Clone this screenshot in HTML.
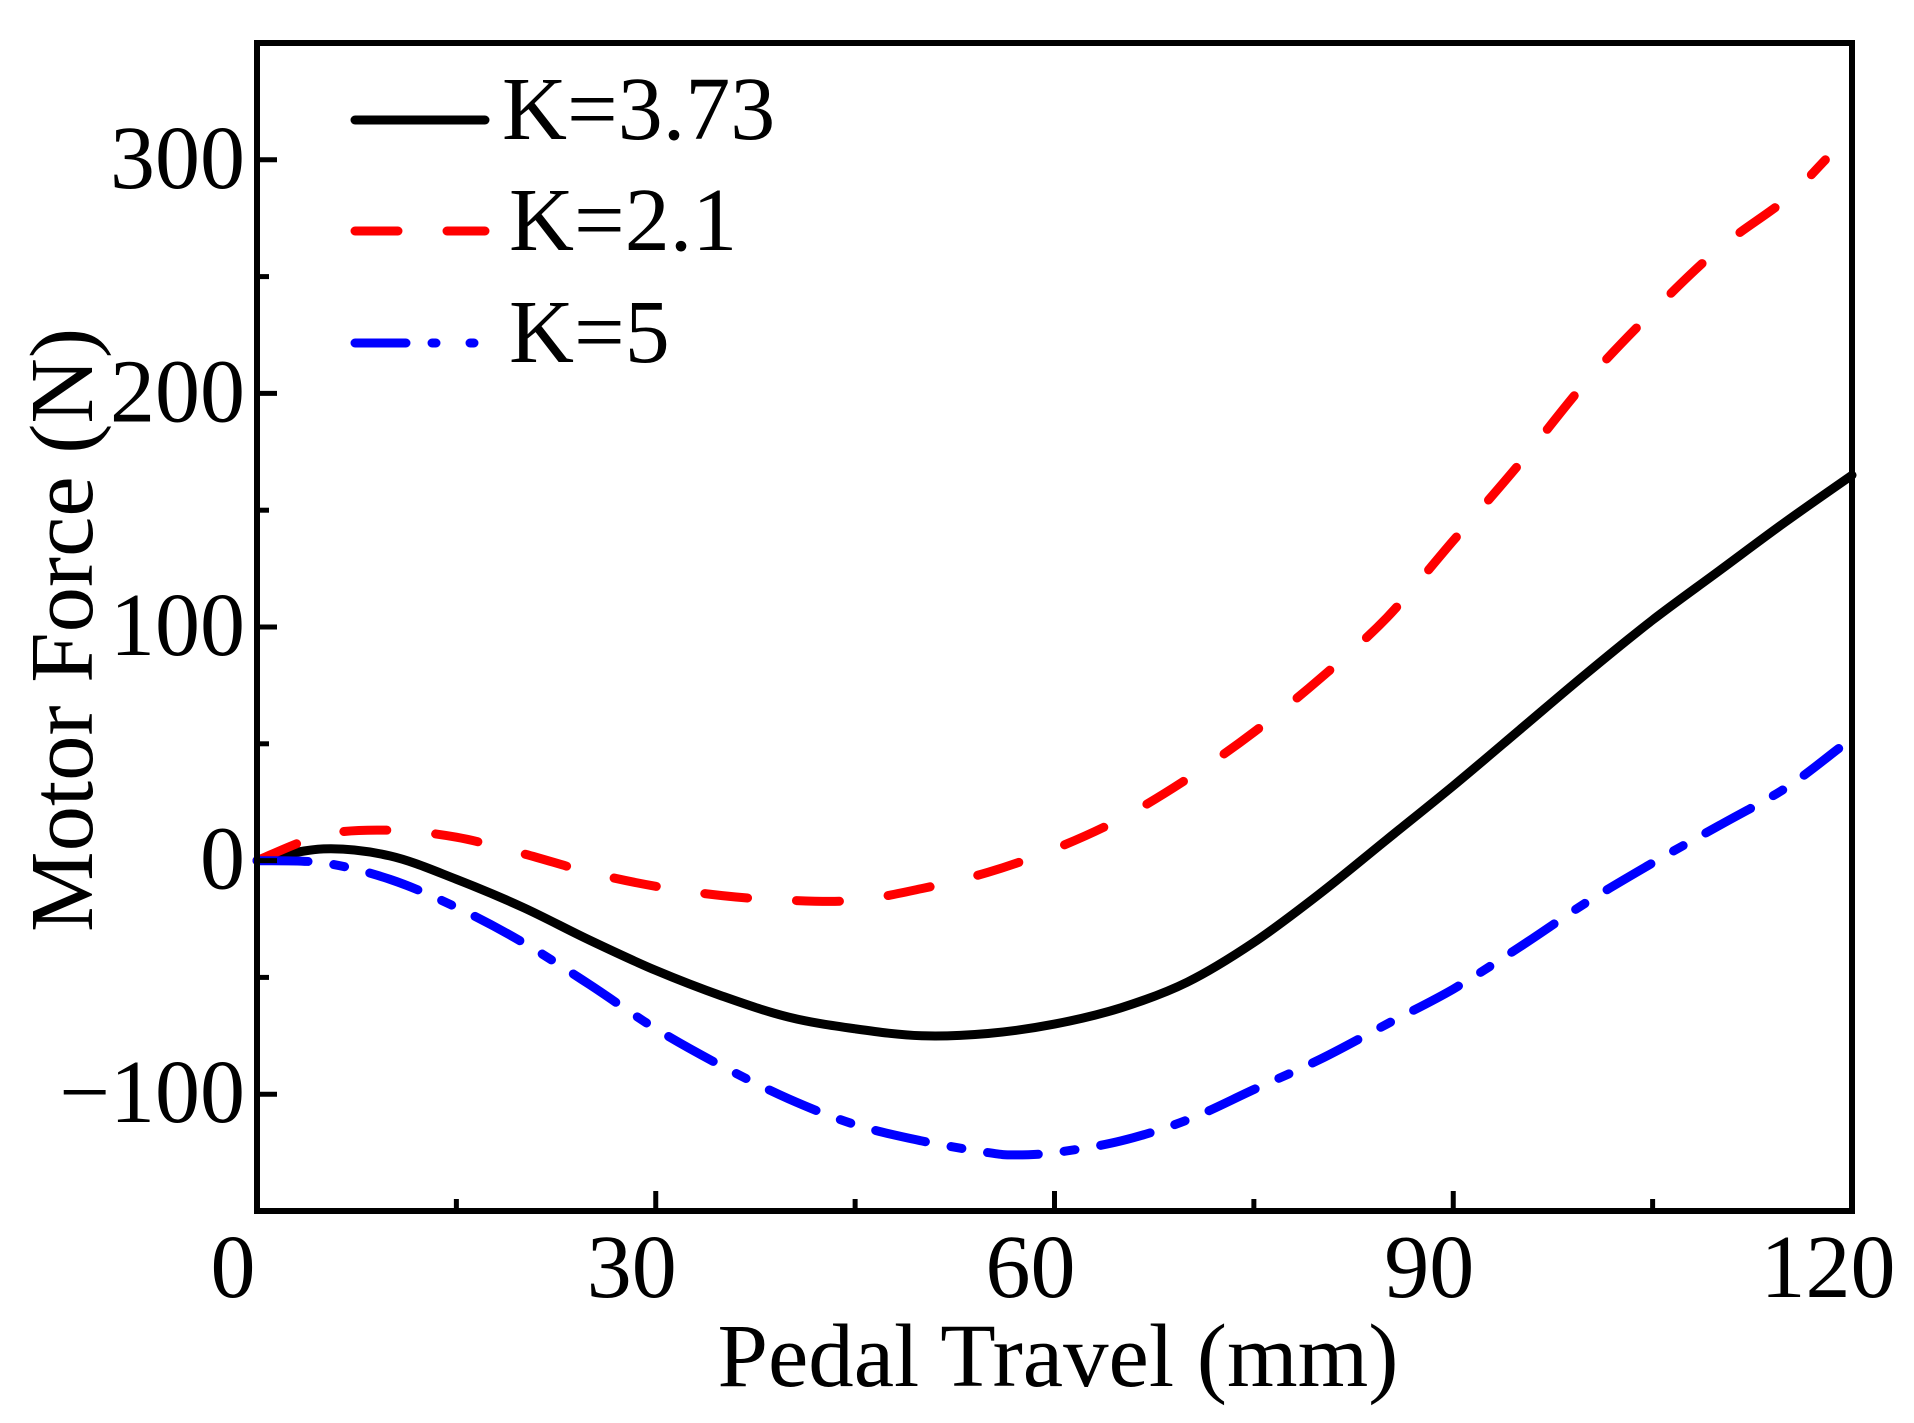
<!DOCTYPE html>
<html><head><meta charset="utf-8"><style>
html,body{margin:0;padding:0;background:#fff}
svg{display:block}
text{font-family:"Liberation Serif","Times New Roman",serif;fill:#000}
</style></head><body>
<svg id="chart" width="1914" height="1423" viewBox="0 0 1914 1423" xmlns="http://www.w3.org/2000/svg">
<g id="series"></g>
<g id="axes"></g>
<g id="legend"></g>
</svg>
<script>
const xTickValues = [0, 30, 60, 90, 120];
const xMinorValues = [15, 45, 75, 105];
const yTickValues = [-100, 0, 100, 200, 300];
const yTickLabels = ["\u2212100", "0", "100", "200", "300"];
const yMinorValues = [-50, 50, 150, 250];
const xK373 = [0,5,10,15,20,25,30,35,40,45,50,55,60,65,70,75,80,85,90,95,100,105,110,115,120];
const yK373 = [0,5,2,-8,-20,-34,-47,-58,-67,-72,-75,-74,-70,-63,-52,-35,-14,9,32,56,80,103,124,145,165];
const xK21 = [0,5,10,15,20,25,30,35,40,45,50,55,60,65,70,75,80,85,90,95,100,105,110,115,118];
const yK21 = [0,11,13,10,3,-5,-11,-15,-17,-17,-12,-5,5,18,35,55,78,104,137,170,205,235,262,283,300];
const xK5 = [0,5,10,15,20,25,30,35,40,45,50,55,57,60,65,70,75,80,85,90,95,100,105,110,115,119];
const yK5 = [0,-1,-8,-20,-35,-53,-72,-88,-102,-113,-120,-125,-126,-125,-120,-111,-98,-85,-70,-55,-37,-18,-1,15,31,48];
const seriesNames = ["K=3.73", "K=2.1", "K=5"];

const NS = "http://www.w3.org/2000/svg";
const L = 257, R = 1852, T = 43, B = 1211;
const xMin = 0, xMax = 120, yMin = -150, yMax = 350;
function sx(v){ return L + (v - xMin) / (xMax - xMin) * (R - L); }
function sy(v){ return B - (v - yMin) / (yMax - yMin) * (B - T); }
function mk(tag, attrs, parent){ const e = document.createElementNS(NS, tag); for (const k in attrs) e.setAttribute(k, attrs[k]); parent.appendChild(e); return e; }

const series = document.getElementById('series');
const axes = document.getElementById('axes');
const legend = document.getElementById('legend');

function pathFor(xs, ys){
  const p = xs.map((x,i)=>[sx(x), sy(ys[i])]);
  let d = "M" + p[0][0].toFixed(1) + "," + p[0][1].toFixed(1);
  for (let i=0;i<p.length-1;i++){
    const p0 = p[i-1]||p[i], p1=p[i], p2=p[i+1], p3=p[i+2]||p[i+1];
    const c1x = p1[0]+(p2[0]-p0[0])/6, c1y = p1[1]+(p2[1]-p0[1])/6;
    const c2x = p2[0]-(p3[0]-p1[0])/6, c2y = p2[1]-(p3[1]-p1[1])/6;
    d += " C"+c1x.toFixed(1)+","+c1y.toFixed(1)+" "+c2x.toFixed(1)+","+c2y.toFixed(1)+" "+p2[0].toFixed(1)+","+p2[1].toFixed(1);
  }
  return d;
}
const styles = [
  {stroke:"#000", dash:"none"},
  {stroke:"#ff0000", dash:"43 49"},
  {stroke:"#0000ff", dash:"51 26 11 26"}
];
const data = [[xK373,yK373],[xK21,yK21],[xK5,yK5]];
const lineNames = ['line-k-3-73','line-k-2-1','line-k-5'];
data.forEach((s,i)=>{
  const el = mk('path',{d:pathFor(s[0],s[1]),fill:'none',stroke:styles[i].stroke,'stroke-width':9,'stroke-linecap':'round','stroke-linejoin':'round','stroke-dasharray':styles[i].dash},series);
  
  
});

const frame = mk('rect',{x:L,y:T,width:R-L,height:B-T,fill:'none',stroke:'#000','stroke-width':6},axes);



xTickValues.forEach(v=>{
  const t = mk('line',{x1:sx(v),x2:sx(v),y1:B,y2:B-20,stroke:'#000','stroke-width':5},axes);
  
  
  const lb = mk('text',{x:sx(v)-24,y:1297,'text-anchor':'middle','font-size':90},axes);
  lb.textContent = String(v);
  
  
});
xMinorValues.forEach(v=>{
  const t = mk('line',{x1:sx(v),x2:sx(v),y1:B,y2:B-12,stroke:'#000','stroke-width':5},axes);
  
  
});
yTickValues.forEach((v,i)=>{
  const t = mk('line',{x1:L,x2:L+20,y1:sy(v),y2:sy(v),stroke:'#000','stroke-width':5},axes);
  
  
  const lb = mk('text',{x:245,y:sy(v)+28,'text-anchor':'end','font-size':90},axes);
  lb.textContent = yTickLabels[i];
  
  
});
yMinorValues.forEach(v=>{
  const t = mk('line',{x1:L,x2:L+12,y1:sy(v),y2:sy(v),stroke:'#000','stroke-width':5},axes);
  
  
});

const xt = mk('text',{x:1058,y:1386,'text-anchor':'middle','font-size':90,textLength:681,lengthAdjust:'spacingAndGlyphs'},axes);
xt.textContent = 'Pedal Travel (mm)';


const yt = mk('text',{x:0,y:0,'text-anchor':'middle','font-size':90,textLength:604,lengthAdjust:'spacingAndGlyphs',transform:'translate(92,630) rotate(-90)'},axes);
yt.textContent = 'Motor Force (N)';



const legY = [120, 231, 343];
const legTextX = [502, 509, 509];
const legBase = [139, 250, 362];
const legNames = ['legend-entry-k-3-73','legend-entry-k-2-1','legend-entry-k-5'];
seriesNames.forEach((n,i)=>{
  const g = mk('g',{},legend);
  
  
  mk('line',{x1:355,x2:485,y1:legY[i],y2:legY[i],stroke:styles[i].stroke,'stroke-width':9,'stroke-linecap':'round','stroke-dasharray':i===2?'51 26 4 34 4 30':styles[i].dash},g);
  const t = mk('text',{x:legTextX[i],y:legBase[i],'font-size':90},g);
  t.textContent = n;
});
</script>
</body></html>
